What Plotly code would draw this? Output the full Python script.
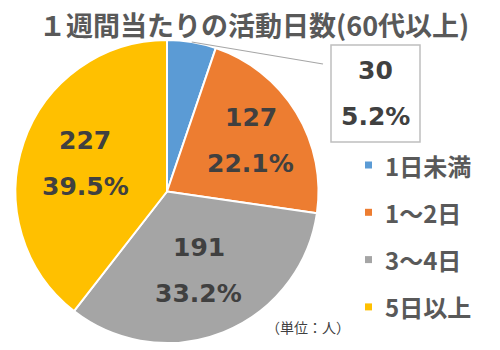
import math
import plotly.graph_objects as go

# Weekly activity days (age 60+), unit: persons
categories = ["1日未満", "1～2日", "3～4日", "5日以上"]
counts = [30, 127, 191, 227]
colors = ["#5B9BD5", "#ED7D31", "#A5A5A5", "#FFC000"]

W, H = 500, 350
total = sum(counts)
pcts = [c / total * 100 for c in counts]

# pie placement in pixels
cx, cy, R = 167, 191.5, 151.5


def px(x):
    return x / W


def py(y):
    return 1 - y / H


def note(x, y, text, font, xanchor="center"):
    return dict(x=px(x), y=py(y), xref="paper", yref="paper",
                xanchor=xanchor, yanchor="middle",
                text=text, showarrow=False, font=font)


fig = go.Figure()
fig.add_trace(go.Pie(
    labels=categories,
    values=counts,
    sort=False,
    direction="clockwise",
    rotation=0,
    marker=dict(colors=colors, line=dict(color="white", width=2)),
    textinfo="none",
    hovertemplate="%{label}: %{value}人 (%{percent})<extra></extra>",
    domain=dict(x=[px(cx - R), px(cx + R)], y=[py(cy + R), py(cy - R)]),
    showlegend=False,
))

annotations = []
shapes = []

# slice mid angles (clockwise from 12 o'clock)
mids = []
acc = 0
for c in counts:
    mids.append((acc + c / 2) / total * 2 * math.pi)
    acc += c

label_font = dict(family="DejaVu Sans", size=25, color="#404040")
label_r = [None, 0.65, 0.56, 0.57]
gap = 23

for i in range(1, len(counts)):
    a = mids[i]
    lx = cx + label_r[i] * R * math.sin(a)
    ly = cy - label_r[i] * R * math.cos(a)
    annotations.append(note(lx, ly - gap, f"<b>{counts[i]}</b>", label_font))
    annotations.append(note(lx, ly + gap, f"<b>{pcts[i]:.1f}%</b>", label_font))

# small slice: boxed callout with leader line
bx0, by0, bx1, by1 = 331, 45, 420, 142
bcx, bcy = (bx0 + bx1) / 2, (by0 + by1) / 2
shapes.append(dict(type="rect", xref="paper", yref="paper",
                   x0=px(bx0), x1=px(bx1), y0=py(by1), y1=py(by0),
                   line=dict(color="#BFBFBF", width=1.5), fillcolor="white"))
ex = cx + R * math.sin(mids[0])
ey = cy - R * math.cos(mids[0])
shapes.append(dict(type="line", xref="paper", yref="paper",
                   x0=px(ex), y0=py(ey), x1=px(bx0 - 8), y1=py(64),
                   line=dict(color="#A6A6A6", width=1.2)))
annotations.append(note(bcx, bcy - gap, f"<b>{counts[0]}</b>", label_font))
annotations.append(note(bcx, bcy + gap, f"<b>{pcts[0]:.1f}%</b>", label_font))

# legend
leg_y0, leg_step = 165, 47.3
for i, (name, col) in enumerate(zip(categories, colors)):
    yy = leg_y0 + i * leg_step
    shapes.append(dict(type="rect", xref="paper", yref="paper",
                       x0=px(365), x1=px(372), y0=py(yy + 3.5), y1=py(yy - 3.5),
                       line=dict(width=0), fillcolor=col))
    annotations.append(note(383, yy, f"<b>{name}</b>",
                            dict(family="Noto Sans CJK JP", size=24, color="#595959"),
                            xanchor="left"))

# title
annotations.append(note(254, 24, "<b>１週間当たりの活動日数(60代以上)</b>",
                        dict(family="Noto Sans CJK JP", size=27, color="#595959")))
# unit note
annotations.append(note(308, 327, "（単位：人）",
                        dict(family="Noto Sans CJK JP", size=14, color="#404040")))

fig.update_layout(
    width=W, height=H, autosize=False,
    margin=dict(l=0, r=0, t=0, b=0),
    paper_bgcolor="white", plot_bgcolor="white",
    annotations=annotations, shapes=shapes,
)
fig.write_html("out.html")
